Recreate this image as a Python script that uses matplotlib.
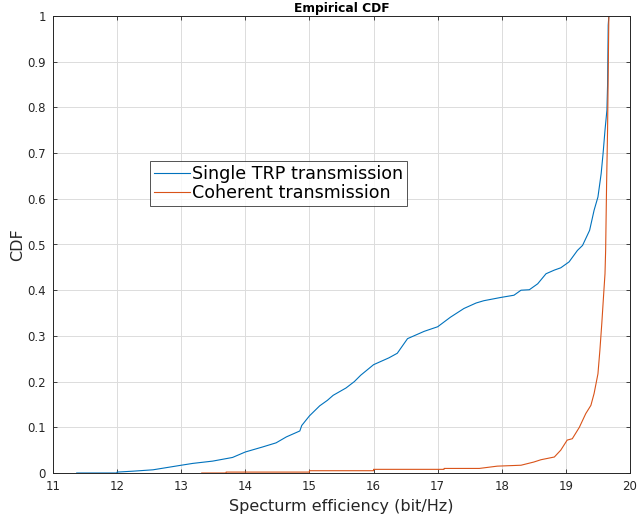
import matplotlib
matplotlib.use("Agg")
import matplotlib.pyplot as plt
from matplotlib.ticker import FuncFormatter

# Single TRP transmission (spectral efficiency, CDF)
single_x = [11.37, 12.0, 12.0, 12.25, 12.56, 12.78, 13.0, 13.18, 13.49, 13.8, 14.0,
            14.27, 14.48, 14.64, 14.85, 14.88, 15.0, 15.16, 15.28, 15.37, 15.57, 15.7,
            15.8, 16.0, 16.24, 16.37, 16.53, 16.79, 17.0, 17.2, 17.41, 17.6, 17.72,
            17.98, 18.19, 18.3, 18.43, 18.56, 18.69, 18.82, 18.92, 19.05, 19.18, 19.26,
            19.37, 19.44, 19.5, 19.55, 19.58, 19.61, 19.64, 19.65, 19.66, 19.67]
single_y = [0.0, 0.0, 0.002, 0.004, 0.007, 0.012, 0.017, 0.021, 0.026, 0.034, 0.046,
            0.057, 0.066, 0.079, 0.092, 0.104, 0.125, 0.147, 0.159, 0.170, 0.186, 0.2,
            0.214, 0.237, 0.252, 0.262, 0.294, 0.310, 0.320, 0.341, 0.360, 0.372, 0.377,
            0.384, 0.389, 0.400, 0.401, 0.414, 0.436, 0.444, 0.449, 0.462, 0.487, 0.498,
            0.531, 0.575, 0.604, 0.655, 0.699, 0.75, 0.794, 0.848, 0.98, 1.0]

# Coherent transmission
coh_x = [13.32, 13.7, 13.7, 15.0, 15.0, 16.0, 16.0, 17.1, 17.1, 17.65, 17.93, 18.3,
         18.5, 18.61, 18.82, 18.92, 19.02, 19.1, 19.21, 19.31, 19.39, 19.44, 19.5,
         19.53, 19.56, 19.59, 19.61, 19.62, 19.635, 19.65, 19.67]
coh_y = [0.0, 0.0, 0.002, 0.002, 0.005, 0.005, 0.008, 0.008, 0.010, 0.010, 0.015, 0.017,
         0.024, 0.029, 0.035, 0.05, 0.072, 0.075, 0.1, 0.13, 0.148, 0.174, 0.217,
         0.268, 0.327, 0.393, 0.436, 0.487, 0.633, 0.75, 1.0]

x_ticks = list(range(11, 21))
y_ticks = [i / 10 for i in range(11)]

series_names = ["Single TRP transmission", "Coherent transmission"]
colors = ["#0072BD", "#D95319"]

fig = plt.figure(figsize=(6.39, 5.18), dpi=100)
ax = fig.add_axes([53 / 639, 45 / 518, 577 / 639, 457 / 518])

ax.plot(single_x, single_y, color=colors[0], lw=0.8, label=series_names[0])
ax.plot(coh_x, coh_y, color=colors[1], lw=0.8, label=series_names[1])

ax.set_xlim(11, 20)
ax.set_ylim(0, 1)
ax.set_xticks(x_ticks)
ax.set_yticks(y_ticks)
ax.yaxis.set_major_formatter(FuncFormatter(lambda v, p: "0" if v == 0 else ("1" if v == 1 else f"{v:.1f}")))

ax.grid(True, color="#dcdcdc", lw=0.7)
ax.set_axisbelow(True)
for s in ax.spines.values():
    s.set_color("#262626")
    s.set_linewidth(0.7)
ax.tick_params(direction="in", length=3, width=0.6, colors="#262626",
               labelsize=8.5, top=True, right=True)
ax.tick_params(axis="x", pad=5)
ax.tick_params(axis="y", pad=5)

ax.set_xlabel("Specturm efficiency (bit/Hz)", fontsize=11.5, color="#262626", labelpad=4)
ax.set_ylabel("CDF", fontsize=11.5, color="#262626", labelpad=2)
ax.set_title("Empirical CDF", fontsize=8.8, fontweight="bold", color="black", pad=3)

leg = ax.legend(loc="upper left", bbox_to_anchor=(0.168, 0.683), fontsize=12.6,
                frameon=True, fancybox=False, handlelength=2.05, handletextpad=0.15,
                borderpad=0.22, labelspacing=0.1, borderaxespad=0)
leg.get_frame().set_edgecolor("#262626")
leg.get_frame().set_linewidth(0.7)

fig.savefig("out.png", dpi=100)
